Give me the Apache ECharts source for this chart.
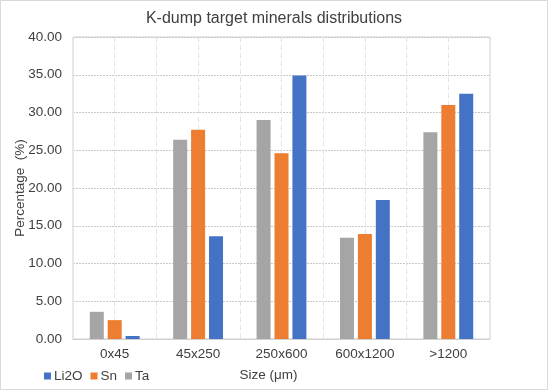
<!DOCTYPE html>
<html>
<head>
<meta charset="utf-8">
<script src="https://cdn.jsdelivr.net/npm/echarts@6/dist/echarts.min.js"></script>
<style>html,body{margin:0;padding:0;background:#fff}#c{width:548px;height:390px}</style>
</head>
<body>
<div id="c"></div>
<script>
const categories = ['0x45', '45x250', '250x600', '600x1200', '>1200'];
const ta = [3.6, 26.4, 29.0, 13.4, 27.4];
const sn = [2.5, 27.7, 24.6, 13.9, 31.0];
const li2o = [0.4, 13.6, 34.9, 18.4, 32.5];
const yTicks = { min: 0, max: 40, interval: 5 };

const font = 'Liberation Sans, Arial, sans-serif';
const chart = echarts.init(document.getElementById('c'), null, { renderer: 'canvas' });
chart.setOption({
  animation: false,
  backgroundColor: '#fff',
  textStyle: { fontFamily: font },
  graphic: [{
    type: 'rect', shape: { x: 0.5, y: 0.5, width: 547, height: 389 },
    style: { fill: 'none', stroke: '#d9d9d9', lineWidth: 1 }, silent: true, z: -1
  }],
  title: {
    text: 'K-dump target minerals distributions',
    left: 'center', top: 6,
    textStyle: { fontFamily: font, fontSize: 16, fontWeight: 'normal', color: '#404040' }
  },
  legend: {
    data: ['Li2O', 'Sn', 'Ta'],
    left: 44, top: 369, padding: 0,
    icon: 'rect', itemWidth: 7, itemHeight: 7, itemGap: 8,
    textStyle: { fontFamily: font, fontSize: 13.5, color: '#404040', padding: [0, 0, 0, -2] }
  },
  grid: { left: 73, right: 58, top: 37, bottom: 51, show: true, borderColor: '#d0d0d0', borderWidth: 1 },
  xAxis: [{
    type: 'category', data: categories,
    name: 'Size (μm)', nameLocation: 'middle', nameGap: 29,
    nameTextStyle: { fontFamily: font, fontSize: 13.5, color: '#404040', padding: [0, 26, 0, 0] },
    axisLine: { show: true, lineStyle: { color: '#d0d0d0' } },
    axisTick: { show: false },
    axisLabel: { fontFamily: font, fontSize: 13.5, color: '#404040', margin: 8 },
    splitLine: { show: false }
  }, {
    type: 'value', min: 0, max: 10, interval: 1, show: true,
    axisLine: { show: false }, axisTick: { show: false }, axisLabel: { show: false },
    splitLine: { show: true, lineStyle: { color: '#e4e4e4', type: [5, 3], width: 1 } }
  }],
  yAxis: {
    type: 'value', min: yTicks.min, max: yTicks.max, interval: yTicks.interval,
    name: 'Percentage  (%)', nameLocation: 'middle', nameGap: 46, nameMoveOverlap: false,
    nameTextStyle: { fontFamily: font, fontSize: 13.5, color: '#404040' },
    axisLine: { show: false }, axisTick: { show: false },
    axisLabel: { fontFamily: font, fontSize: 13.5, color: '#404040', margin: 11,
      formatter: v => v.toFixed(2) },
    splitLine: { show: true, lineStyle: { color: '#c8c8c8', type: [2, 1], width: 1 } }
  },
  series: [
    { name: 'Ta', type: 'bar', data: ta, barWidth: 14, barGap: '28%', itemStyle: { color: '#A5A5A5' } },
    { name: 'Sn', type: 'bar', data: sn, barWidth: 14, barGap: '28%', itemStyle: { color: '#ED7D31' } },
    { name: 'Li2O', type: 'bar', data: li2o, barWidth: 14, barGap: '28%', itemStyle: { color: '#4472C4' } }
  ]
});
</script>
</body>
</html>
